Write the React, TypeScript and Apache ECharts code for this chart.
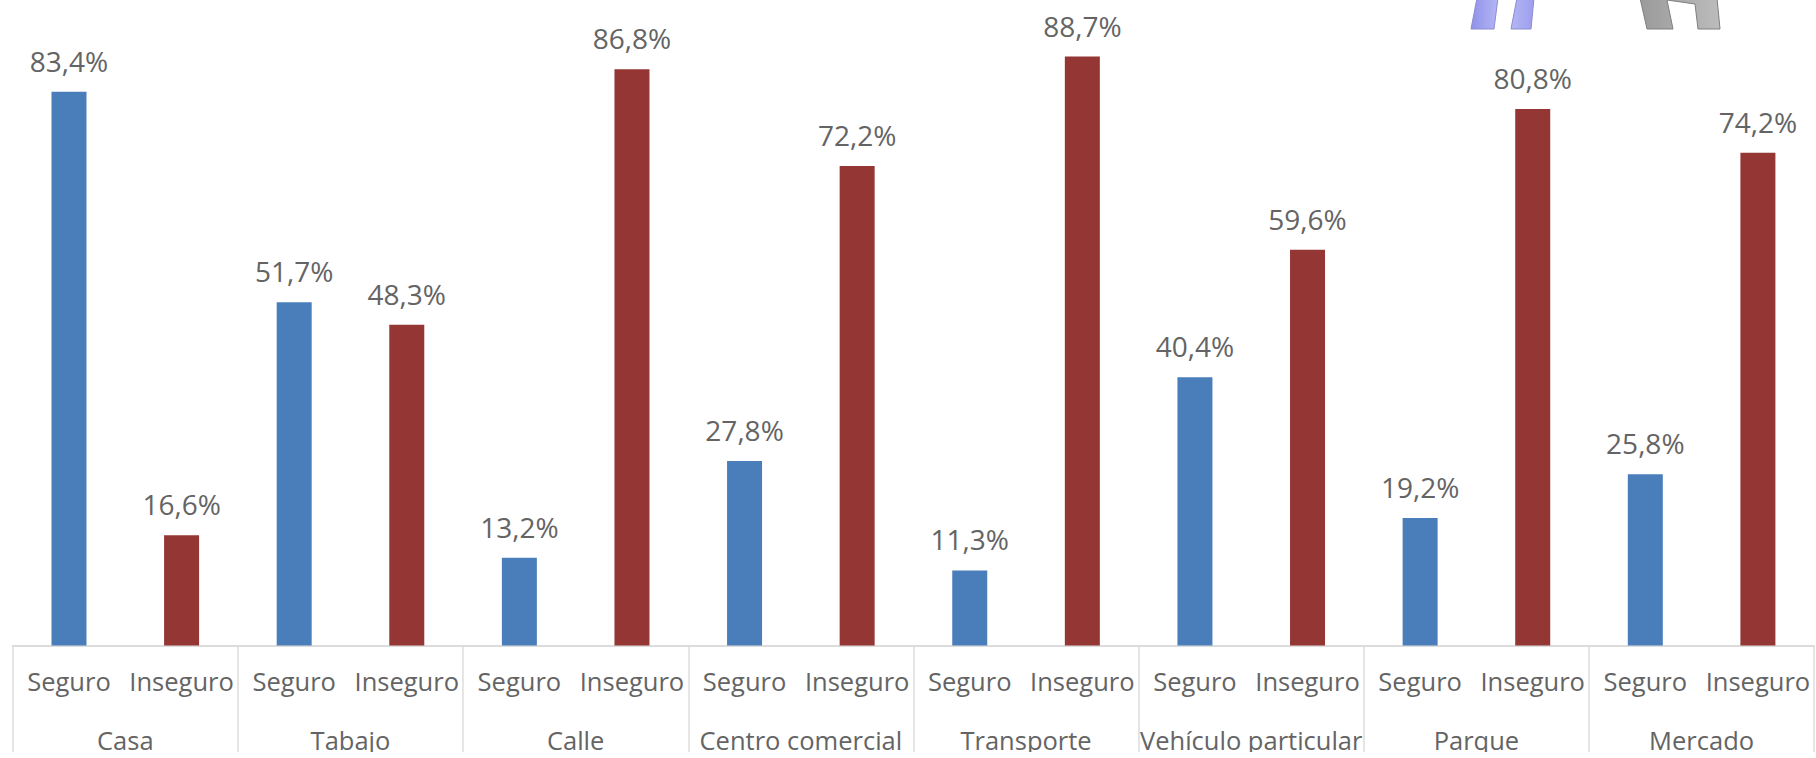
import React, { useEffect, useRef } from "react";
import * as echarts from "echarts";

const groups = ["Casa", "Tabajo", "Calle", "Centro comercial", "Transporte", "Vehículo particular", "Parque", "Mercado"];
const leafNames = ["Seguro", "Inseguro"];
const seguro = [83.4, 51.7, 13.2, 27.8, 11.3, 40.4, 19.2, 25.8];
const inseguro = [16.6, 48.3, 86.8, 72.2, 88.7, 59.6, 80.8, 74.2];

const leaves = groups.flatMap(() => leafNames);
const seguroData = seguro.flatMap((v) => [v, null]);
const inseguroData = inseguro.flatMap((v) => [null, v]);

const textColor = "#646464";
const gridColor = "#dcdcdc";
const fontFamily = "'Open Sans', sans-serif";

const grad = (a: string, b: string) =>
  new echarts.graphic.LinearGradient(0, 0, 1, 0, [
    { offset: 0, color: a },
    { offset: 1, color: b },
  ]);

const poly = (points: number[][], fill: any, stroke: string) => ({
  type: "polygon",
  shape: { points },
  style: { fill, stroke, lineWidth: 1 },
  silent: true,
});

export default function App() {
  const ref = useRef<HTMLDivElement>(null);
  useEffect(() => {
    const chart = echarts.init(ref.current!, null, { renderer: "svg" });
    const label = {
      show: true,
      position: "top" as const,
      distance: 17,
      color: textColor,
      fontSize: 28,
      fontFamily,
      formatter: (p: any) => p.value.toFixed(1).replace(".", ",") + "%",
    };
    chart.setOption({
      animation: false,
      backgroundColor: "#ffffff",
      grid: { left: 12.7, width: 1801.5, top: 47.9, height: 597.6, containLabel: false },
      xAxis: [
        {
          type: "category",
          data: leaves,
          position: "bottom",
          axisLine: { show: true, lineStyle: { color: gridColor, width: 2 } },
          axisTick: { show: false },
          axisLabel: { interval: 0, color: textColor, fontSize: 25.5, fontFamily, margin: 22 },
        },
        {
          type: "category",
          data: groups,
          position: "bottom",
          axisLine: { show: false },
          axisTick: { show: true, length: 107, alignWithLabel: false, lineStyle: { color: gridColor, width: 1.5 } },
          axisLabel: { interval: 0, color: textColor, fontSize: 25.5, fontFamily, margin: 81 },
        },
      ],
      yAxis: { type: "value", min: 0, max: 90, show: false },
      series: [
        {
          name: "Seguro",
          type: "bar",
          data: seguroData,
          xAxisIndex: 0,
          barWidth: 35,
          barGap: "-100%",
          itemStyle: { color: "#4a7ebb" },
          label,
        },
        {
          name: "Inseguro",
          type: "bar",
          data: inseguroData,
          xAxisIndex: 0,
          barWidth: 35,
          itemStyle: { color: "#943634" },
          label,
        },
      ],
      graphic: [
        poly([[1477, -2], [1498, -2], [1494, 29], [1471, 29]], grad("#8f91ea", "#b4b6f4"), "#8a8cd0"),
        poly([[1517, -2], [1534, -2], [1531, 29], [1511, 29]], grad("#b4b6f4", "#9c9eee"), "#8a8cd0"),
        poly([[1640, -2], [1717, -2], [1720, 29], [1698, 29], [1695, 4], [1667, 0], [1673, 29], [1647, 29]], grad("#9a9a9a", "#bcbcbc"), "#7f7f7f"),
        { type: "rect", shape: { x: 0, y: 752, width: 1816, height: 6 }, style: { fill: "#ffffff" }, z: 100, silent: true },
      ],
    });
    return () => chart.dispose();
  }, []);
  return <div ref={ref} style={{ position: "absolute", left: 0, top: 0, width: 1816, height: 758 }} />;
}
